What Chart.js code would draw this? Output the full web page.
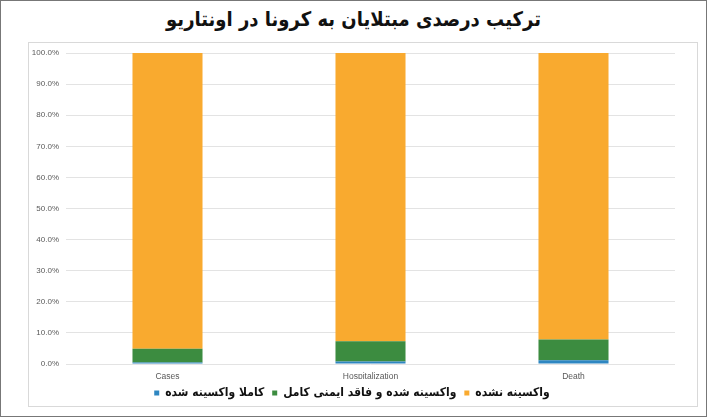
<!DOCTYPE html>
<html><head><meta charset="utf-8">
<script src="https://cdn.jsdelivr.net/npm/chart.js@4.4.1/dist/chart.umd.min.js"></script>
<style>
html,body{margin:0;padding:0;background:#fff;}
#frame{position:relative;width:705px;height:415px;border:1px solid #777;overflow:hidden;background:#fff;}
#title{position:absolute;left:0;right:0;top:6px;text-align:center;font:bold 20px "DejaVu Sans Condensed","DejaVu Sans",sans-serif;color:#111;direction:rtl;}
#box{position:absolute;left:27px;top:41px;width:668px;height:363px;border:1px solid #d9d9d9;}
</style></head><body>
<div id="frame">
<div id="title">ترکیب درصدی مبتلایان به کرونا در اونتاریو</div>
<div id="box"><canvas id="c"></canvas></div>
</div>
<script>
const categories = ['Cases', 'Hospitalization', 'Death'];
const seriesNames = ['کاملا واکسینه شده', 'واکسینه شده و فاقد ایمنی کامل', 'واکسینه نشده'];
const fullyVaccinated = [0.5, 0.8, 1.2];
const partiallyVaccinated = [4.4, 6.5, 6.7];
const unvaccinated = [95.1, 92.7, 92.1];
const yTicks = [0, 10, 20, 30, 40, 50, 60, 70, 80, 90, 100];

const colors = ['#2E86C1', '#3C8C40', '#F9AA2F'];
const seriesValues = [fullyVaccinated, partiallyVaccinated, unvaccinated];

const legendHeight = {
  id: 'legendHeight',
  afterInit(chart) {
    const lg = chart.legend;
    const orig = lg.fit.bind(lg);
    lg.fit = function () { orig(); this.height = 27; };
  }
};

new Chart(document.getElementById('c'), {
  type: 'bar',
  data: {
    labels: categories,
    datasets: seriesValues.map((v, i) => ({
      label: seriesNames[i],
      data: v,
      backgroundColor: colors[i],
      borderWidth: 0,
      categoryPercentage: 1,
      barPercentage: 0.345
    }))
  },
  options: {
    responsive: true,
    maintainAspectRatio: false,
    animation: false,
    layout: { padding: { top: 0, right: 22, left: 0, bottom: 0 } },
    plugins: {
      tooltip: { enabled: false },
      legend: {
        position: 'bottom',
        labels: {
          usePointStyle: true,
          pointStyle: 'rect',
          boxWidth: 5,
          boxHeight: 5,
          padding: 8,
          color: '#111',
          font: { family: 'DejaVu Sans Condensed', size: 12, weight: 'bold' }
        }
      }
    },
    scales: {
      x: {
        stacked: true,
        grid: { display: false, drawTicks: false },
        border: { display: false },
        afterFit: s => { s.height = 15; },
        ticks: { color: '#595959', font: { family: 'Liberation Sans', size: 8.5 }, padding: 8 }
      },
      y: {
        stacked: true,
        min: 0,
        max: 100,
        afterFit: s => { s.width = 37; s.paddingTop = 10; s.paddingBottom = 0; },
        afterBuildTicks: s => { s.ticks = yTicks.map(v => ({ value: v })); },
        grid: { color: '#e3e3e3', drawTicks: false },
        border: { display: false },
        ticks: {
          color: '#595959',
          padding: 7,
          font: { family: 'Liberation Sans', size: 8 },
          callback: v => v.toFixed(1) + '%'
        }
      }
    }
  },
  plugins: [legendHeight]
});
</script>
</body></html>
